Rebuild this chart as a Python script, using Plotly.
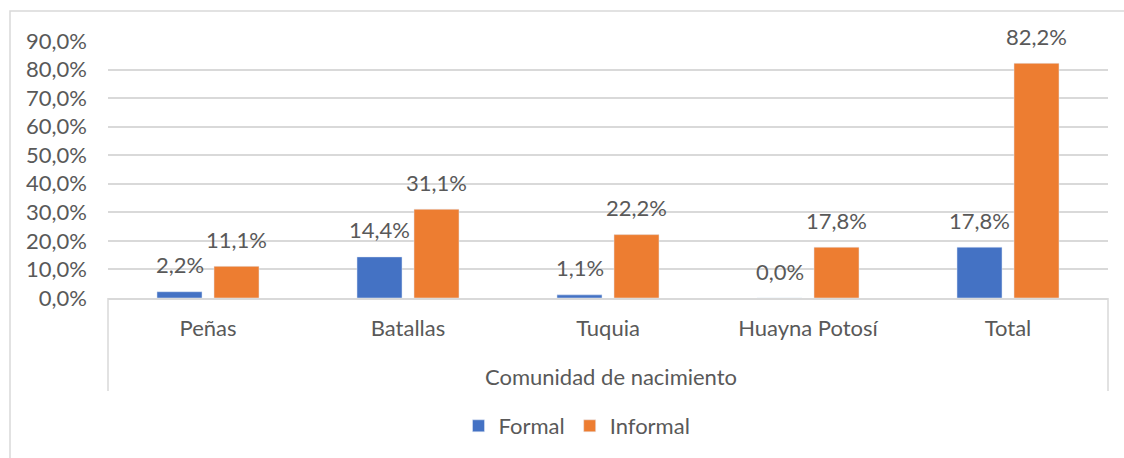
import plotly.graph_objects as go

categories = ["Peñas", "Batallas", "Tuquia", "Huayna Potosí", "Total"]
formal = [2.2, 14.4, 1.1, 0.0, 17.8]
informal = [11.1, 31.1, 22.2, 17.8, 82.2]
series_names = ["Formal", "Informal"]
y_ticks = [0, 10, 20, 30, 40, 50, 60, 70, 80, 90]
axis_title = "Comunidad de nacimiento"

BLUE = "#4472C4"
ORANGE = "#ED7D31"
TXT = "#595959"
GRID = "#D9D9D9"
FONT = "Lato"
FS = 22

W, H = 1124, 458
L, R, T, B = 108, 16, 41, 160
plot_w = W - L - R
plot_h = H - T - B
bargap = 0.43
bargroupgap = 0.21


def fmt(v):
    return f"{v:.1f}%".replace(".", ",")


def py(pix):
    return (H - B - pix) / plot_h


def px(pix):
    return (pix - L) / plot_w


fig = go.Figure()
fig.add_trace(go.Bar(x=categories, y=formal, name=series_names[0], marker_color=BLUE))
fig.add_trace(go.Bar(x=categories, y=informal, name=series_names[1], marker_color=ORANGE))

cat_w = plot_w / len(categories)
shift = (1 - bargap) * cat_w / 4
annotations = []
for vals, s in ((formal, -shift), (informal, shift)):
    for c, v in zip(categories, vals):
        annotations.append(dict(
            x=c, y=v, xref="x", yref="y", text=fmt(v),
            showarrow=False, xshift=s, yshift=27, yanchor="middle",
            font=dict(family=FONT, size=FS, color=TXT)))
annotations.append(dict(
    x=px(611), y=py(376), xref="paper", yref="paper", text=axis_title,
    showarrow=False, yanchor="middle", xanchor="center",
    font=dict(family=FONT, size=FS, color=TXT)))

shapes = [
    dict(type="rect", xref="paper", yref="paper", x0=px(10), x1=px(1135),
         y0=py(470), y1=py(11), line=dict(color=GRID, width=1.5), layer="below"),
    dict(type="line", xref="paper", yref="paper", x0=0, x1=0, y0=0, y1=py(391),
         line=dict(color=GRID, width=1.5)),
    dict(type="line", xref="paper", yref="paper", x0=1, x1=1, y0=0, y1=py(391),
         line=dict(color=GRID, width=1.5)),
]

fig.update_layout(
    width=W, height=H,
    margin=dict(l=L, r=R, t=T, b=B, autoexpand=False),
    paper_bgcolor="white", plot_bgcolor="white",
    barmode="group", bargap=bargap, bargroupgap=bargroupgap,
    separators=",.",
    font=dict(family=FONT, size=FS, color=TXT),
    showlegend=True,
    legend=dict(orientation="h", x=px(577), y=py(426), xanchor="center", yanchor="middle",
                font=dict(family=FONT, size=FS, color=TXT), traceorder="normal"),
    annotations=annotations,
    shapes=shapes,
)
fig.update_yaxes(range=[0, 90], tickvals=y_ticks, ticktext=[fmt(v) for v in y_ticks],
                 showgrid=True, gridcolor=GRID, gridwidth=1.5, zeroline=False,
                 showline=False, ticks="", ticklabelstandoff=20,
                 tickfont=dict(family=FONT, size=FS, color=TXT))
fig.update_xaxes(showline=True, linecolor=GRID, linewidth=1.5, ticks="",
                 ticklabelstandoff=10, tickfont=dict(family=FONT, size=FS, color=TXT))

fig.write_html("out.html", config={"displayModeBar": False},
               post_script="document.body.style.margin='0';")
